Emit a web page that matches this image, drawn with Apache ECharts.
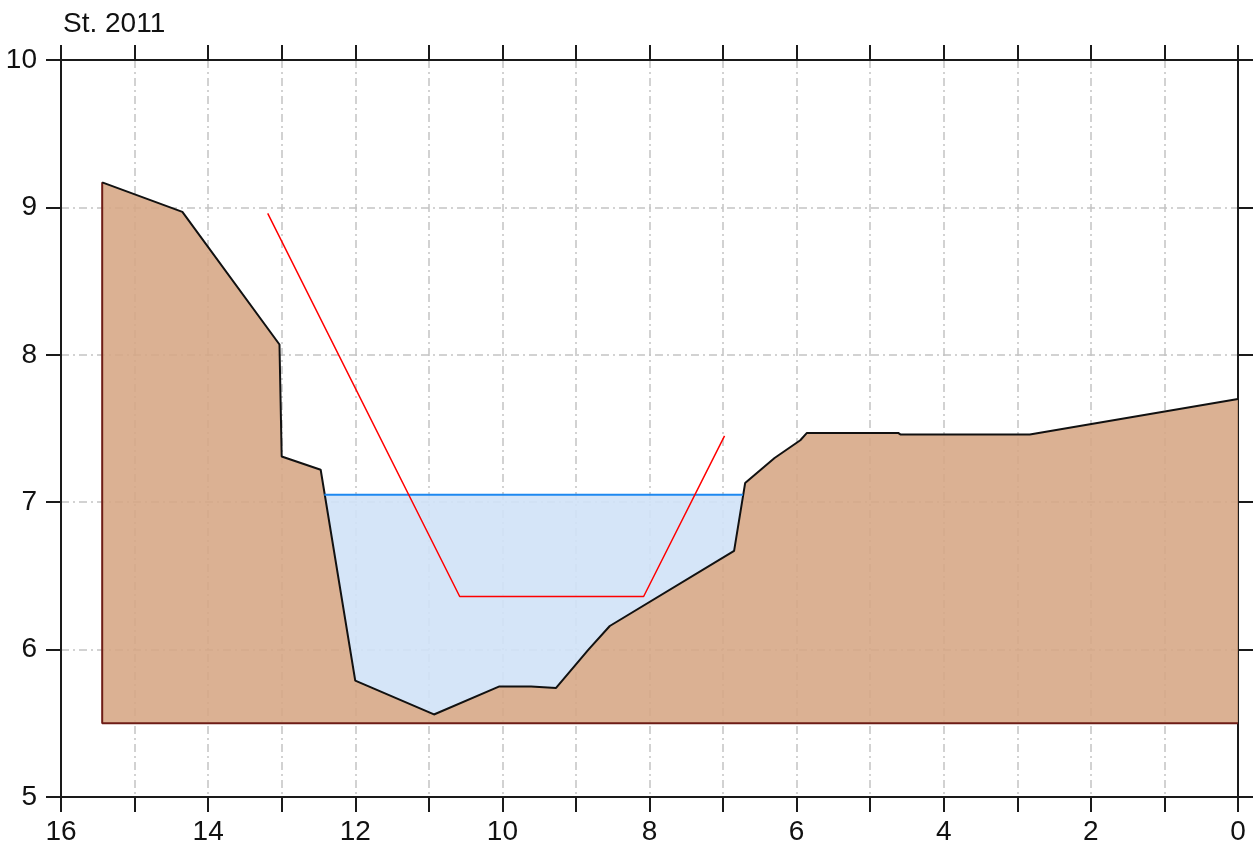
<!DOCTYPE html>
<html>
<head>
<meta charset="utf-8">
<title>St. 2011</title>
<script src="https://cdn.jsdelivr.net/npm/echarts@6/dist/echarts.min.js"></script>
<style>
  html, body { margin: 0; padding: 0; background: #fff; }
  #chart { width: 1258px; height: 858px; }
</style>
</head>
<body>
<div id="chart"></div>
<script>
// ground profile (distance, elevation)
var groundX = [15.44, 14.35, 13.03, 13.00, 12.47, 12.00, 10.93, 10.04, 9.61, 9.27, 8.83, 8.54, 6.85, 6.70, 6.30, 5.95, 5.86, 4.62, 4.59, 2.83, 0];
var groundY = [9.17, 8.97, 8.07, 7.31, 7.22, 5.79, 5.56, 5.75, 5.75, 5.74, 6.00, 6.16, 6.67, 7.13, 7.30, 7.42, 7.47, 7.47, 7.46, 7.46, 7.70];
var baseY = 5.5;

// water body: surface ends and bed points
var waterX = [12.42, 12.00, 10.93, 10.04, 9.61, 9.27, 8.83, 8.54, 6.85, 6.73];
var waterY = [7.05, 5.79, 5.56, 5.75, 5.75, 5.74, 6.00, 6.16, 6.67, 7.05];
var waterLevel = 7.05;

// design cross-section (red)
var designX = [13.19, 10.58, 8.08, 6.98];
var designY = [8.96, 6.36, 6.36, 7.45];

var xTicks = [16, 14, 12, 10, 8, 6, 4, 2, 0];

function pairs(xs, ys) {
    return xs.map(function (x, i) { return [x, ys[i]]; });
}

var groundPts = pairs(groundX, groundY);
var groundPoly = groundPts.concat([[groundX[groundX.length - 1], baseY], [groundX[0], baseY]]);
var waterPoly = pairs(waterX, waterY);

function polygonSeries(pts, color, z) {
    return {
        type: 'custom',
        coordinateSystem: 'cartesian2d',
        z: z,
        silent: true,
        data: pts,
        encode: { x: 0, y: 1 },
        renderItem: function (params, api) {
            if (params.dataIndexInside !== 0) return null;
            return {
                type: 'polygon',
                shape: { points: pts.map(function (p) { return api.coord(p); }) },
                style: { fill: color, stroke: null }
            };
        }
    };
}

var gridLine = { show: true, lineStyle: { color: '#c4c4c4', width: 1.5, type: [8, 4, 2, 4] } };
var axisLine = { show: true, onZero: false, lineStyle: { color: '#1a1a1a', width: 2 } };
var axisTick = { show: true, length: 15, lineStyle: { color: '#1a1a1a', width: 2 } };
var labelFont = { fontFamily: 'Liberation Sans, Arial, sans-serif', fontSize: 28, color: '#111' };

var chart = echarts.init(document.getElementById('chart'));
chart.setOption({
    animation: false,
    backgroundColor: '#fff',
    title: {
        text: 'St. 2011',
        left: 58, top: 5,
        textStyle: { fontFamily: 'Liberation Sans, Arial, sans-serif', fontSize: 28, fontWeight: 'normal', color: '#111' }
    },
    grid: { left: 61, right: 20, top: 60, bottom: 61 },
    xAxis: [
        {
            type: 'value', position: 'bottom', inverse: true,
            min: 0, max: 16, interval: 1,
            axisLine: axisLine, axisTick: axisTick, splitLine: gridLine,
            axisLabel: Object.assign({
                margin: 21,
                showMinLabel: true, showMaxLabel: true,
                formatter: function (v) { return xTicks.indexOf(v) >= 0 ? String(v) : ''; }
            }, labelFont)
        },
        {
            type: 'value', position: 'top', inverse: true,
            min: 0, max: 16, interval: 1,
            axisLine: axisLine, axisTick: axisTick,
            splitLine: { show: false }, axisLabel: { show: false }
        }
    ],
    yAxis: [
        {
            type: 'value', position: 'left',
            min: 5, max: 10, interval: 1,
            axisLine: axisLine, axisTick: axisTick, splitLine: gridLine,
            axisLabel: Object.assign({ margin: 24, showMinLabel: true, showMaxLabel: true }, labelFont)
        },
        {
            type: 'value', position: 'right',
            min: 5, max: 10, interval: 1,
            axisLine: axisLine, axisTick: axisTick,
            splitLine: { show: false }, axisLabel: { show: false }
        }
    ],
    series: [
        polygonSeries(groundPoly, 'rgba(214,166,132,0.88)', 1),
        polygonSeries(waterPoly, 'rgba(208,226,247,0.9)', 1),
        {
            // bank and base edges of the ground body
            type: 'line', z: 3, symbol: 'none', silent: true,
            data: [[groundX[0], groundY[0]], [groundX[0], baseY], [groundX[groundX.length - 1], baseY]],
            lineStyle: { color: '#6e1c16', width: 2 }
        },
        {
            type: 'line', z: 4, symbol: 'none', silent: true,
            data: groundPts,
            lineStyle: { color: '#111', width: 2 }
        },
        {
            type: 'line', z: 4, symbol: 'none', silent: true,
            data: [[waterX[0], waterLevel], [waterX[waterX.length - 1], waterLevel]],
            lineStyle: { color: '#1e88f0', width: 2 }
        },
        {
            type: 'line', z: 5, symbol: 'none', silent: true,
            data: pairs(designX, designY),
            lineStyle: { color: '#ff0000', width: 1.5 }
        }
    ]
});
</script>
</body>
</html>
